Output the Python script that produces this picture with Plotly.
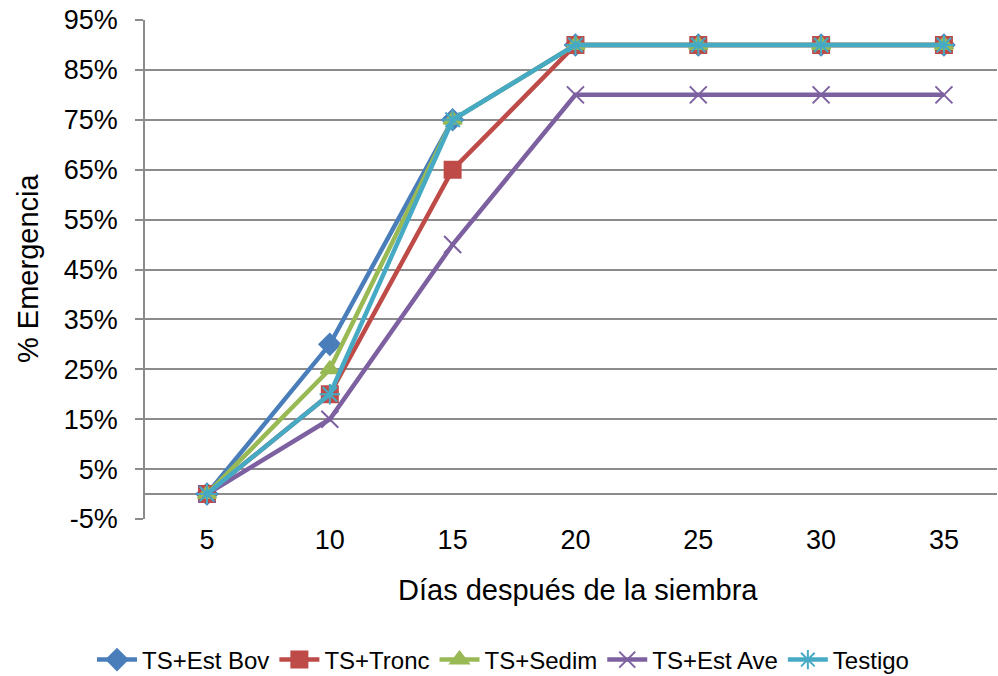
import plotly.graph_objects as go

dias = [5, 10, 15, 20, 25, 30, 35]
series_names = ["TS+Est Bov", "TS+Tronc", "TS+Sedim", "TS+Est Ave", "Testigo"]
est_bov = [0, 30, 75, 90, 90, 90, 90]
tronc = [0, 20, 65, 90, 90, 90, 90]
sedim = [0, 25, 75, 90, 90, 90, 90]
est_ave = [0, 15, 50, 80, 80, 80, 80]
testigo = [0, 20, 75, 90, 90, 90, 90]
y_ticks = [-5, 5, 15, 25, 35, 45, 55, 65, 75, 85, 95]

colors = ["#4A7EBB", "#BE4B48", "#98B954", "#7D60A0", "#46AAC5"]
symbols = ["diamond", "square", "triangle-up", "x-thin-open", "asterisk-open"]
sizes = [16, 16, 16, 17, 17]
data = [est_bov, tronc, sedim, est_ave, testigo]

fig = go.Figure()
for name, vals, c, s, sz in zip(series_names, data, colors, symbols, sizes):
    fig.add_trace(go.Scatter(
        x=dias, y=vals, name=name, mode="lines+markers",
        line=dict(color=c, width=4.5),
        marker=dict(symbol=s, size=sz, color=c, line=dict(color=c, width=2)),
    ))

font = "Liberation Sans, Arial, sans-serif"
fig.update_layout(
    width=998, height=676,
    margin=dict(l=145, r=1, t=20, b=157),
    plot_bgcolor="white", paper_bgcolor="white",
    font=dict(family=font, size=27, color="#000000"),
    showlegend=True,
    legend=dict(orientation="h", xref="container", yref="container",
                x=0.504, xanchor="center", y=1 - 660 / 676, yanchor="middle",
                font=dict(size=24), itemwidth=40, tracegroupgap=0),
    xaxis=dict(range=[2.477, 37.16], tickvals=dias, ticktext=[str(d) for d in dias],
               showgrid=False, zeroline=False, showline=False, ticks="",
               ticklabelstandoff=2, tickfont=dict(size=27)),
    yaxis=dict(range=[-5, 95], tickvals=y_ticks, ticktext=[f"{v}%" for v in y_ticks],
               showgrid=True, gridcolor="#8C8C8C", gridwidth=1.8,
               zeroline=True, zerolinecolor="#8C8C8C", zerolinewidth=1.8,
               showline=True, linecolor="#8C8C8C", linewidth=1.8,
               ticks="outside", ticklen=8, tickcolor="#8C8C8C", tickwidth=1.8,
               ticklabelstandoff=12, tickfont=dict(size=27)),
    annotations=[
        dict(text="Días después de la siembra", xref="paper", yref="paper",
             x=(578 - 145) / 852, y=(519 - 590) / 499, xanchor="center", yanchor="middle",
             showarrow=False, font=dict(size=29)),
        dict(text="% Emergencia", xref="paper", yref="paper",
             x=(28 - 145) / 852, y=(519 - 268) / 499, xanchor="center", yanchor="middle",
             textangle=-90, showarrow=False, font=dict(size=29)),
    ],
)

fig.write_html("out.html")
